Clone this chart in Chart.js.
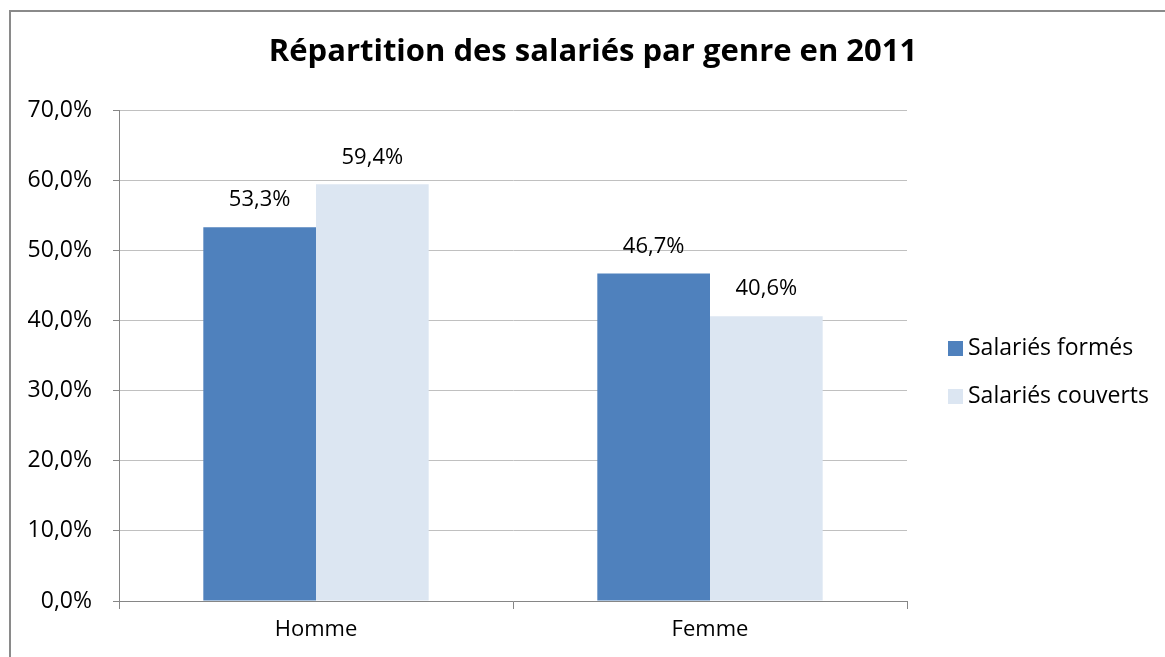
<!DOCTYPE html>
<html>
<head>
<meta charset="utf-8">
<script src="https://cdn.jsdelivr.net/npm/chart.js@4"></script>
<style>
  html, body { margin: 0; padding: 0; background: #ffffff; }
  #wrap { width: 1165px; height: 657px; position: relative; }
</style>
</head>
<body>
<div id="wrap"><canvas id="chart"></canvas></div>
<script>
// Répartition des salariés par genre en 2011

const FONT = '"Open Sans", Lato, sans-serif';

const TITLE      = 'Répartition des salariés par genre en 2011';
const categories = ['Homme', 'Femme'];
const formes     = [53.3, 46.7];   // Salariés formés (%)
const couverts   = [59.4, 40.6];   // Salariés couverts (%)
const yTicks     = [0, 10, 20, 30, 40, 50, 60, 70];

const DARK_BLUE  = '#4F81BD';
const LIGHT_BLUE = '#DCE6F2';

const fmt = v => v.toFixed(1).replace('.', ',') + '%';

// Frame, title centred on the whole chart, value labels and the legend
const decorations = {
  id: 'decorations',
  beforeDraw(chart) {
    const { ctx } = chart;
    ctx.save();
    ctx.strokeStyle = '#8a8a8a';
    ctx.lineWidth = 2;
    ctx.strokeRect(10, 11, chart.width + 20, chart.height + 20);

    ctx.fillStyle = '#000000';
    ctx.font = `bold 31px ${FONT}`;
    ctx.textAlign = 'center';
    ctx.textBaseline = 'middle';
    ctx.fillText(TITLE, 593, 52);
    ctx.restore();
  },
  afterDatasetsDraw(chart) {
    const { ctx } = chart;
    ctx.save();
    ctx.fillStyle = '#000000';
    ctx.font = `22px ${FONT}`;
    ctx.textAlign = 'center';
    ctx.textBaseline = 'middle';
    chart.data.datasets.forEach((ds, i) => {
      chart.getDatasetMeta(i).data.forEach((bar, j) => {
        ctx.fillText(fmt(ds.data[j]), bar.x, bar.y - 27);
      });
    });

    // legend
    const lx = chart.chartArea.right + 41;
    let ly = 348;
    ctx.font = `23px ${FONT}`;
    chart.data.datasets.forEach(ds => {
      ctx.fillStyle = ds.backgroundColor;
      ctx.fillRect(lx, ly - 7, 15, 15);
      ctx.fillStyle = '#000000';
      ctx.textAlign = 'left';
      ctx.fillText(ds.label, lx + 20, ly);
      ly += 48;
    });
    ctx.restore();
  },
};

new Chart(document.getElementById('chart'), {
  type: 'bar',
  data: {
    labels: categories,
    datasets: [
      { label: 'Salariés formés',   data: formes,   backgroundColor: DARK_BLUE },
      { label: 'Salariés couverts', data: couverts, backgroundColor: LIGHT_BLUE },
    ],
  },
  options: {
    responsive: true,
    maintainAspectRatio: false,
    animation: false,
    layout: { padding: { top: 110, left: 9, right: 258, bottom: 0 } },
    datasets: {
      bar: { categoryPercentage: 0.572, barPercentage: 1.0, borderWidth: 0 },
    },
    plugins: {
      legend: { display: false },
      tooltip: { enabled: false },
      title: { display: false },
    },
    scales: {
      x: {
        afterFit: scale => { scale.height = 56; },
        grid: {
          offset: true,
          drawOnChartArea: false,
          drawTicks: true,
          tickLength: 8,
          tickColor: '#868686',
        },
        border: { color: '#868686', width: 1 },
        ticks: {
          color: '#000000',
          padding: 8,
          font: { family: FONT, size: 22 },
        },
      },
      y: {
        min: 0,
        max: 70,
        afterFit: scale => { scale.width = 110; },
        afterBuildTicks: scale => { scale.ticks = yTicks.map(v => ({ value: v })); },
        grid: {
          color: '#c0c0c0',
          drawTicks: true,
          tickLength: 6,
          tickColor: '#868686',
        },
        border: { color: '#868686', width: 1 },
        ticks: {
          color: '#000000',
          padding: 21,
          font: { family: FONT, size: 23 },
          callback: v => fmt(v),
        },
      },
    },
  },
  plugins: [decorations],
});
</script>
</body>
</html>
